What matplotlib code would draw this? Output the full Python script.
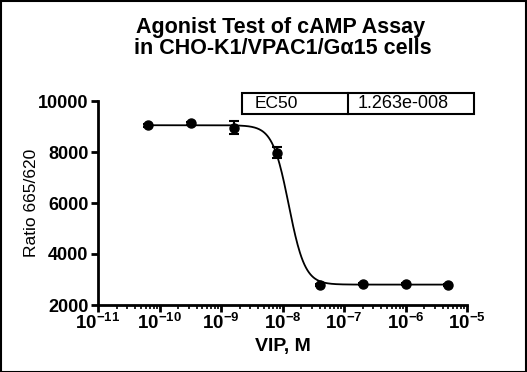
import numpy as np
import matplotlib
matplotlib.use("Agg")
import matplotlib.pyplot as plt
from matplotlib.patches import Rectangle
from matplotlib.ticker import LogLocator, NullFormatter, FixedLocator

plt.rcParams['font.family'] = ['Liberation Sans', 'DejaVu Sans']
plt.rcParams['mathtext.fontset'] = 'custom'
plt.rcParams['mathtext.rm'] = 'Liberation Sans:bold'
plt.rcParams['mathtext.bf'] = 'Liberation Sans:bold'

# Data
conc = [6.4e-11, 3.2e-10, 1.6e-9, 8e-9, 4e-8, 2e-7, 1e-6, 5e-6]
ratio = [9050, 9130, 8950, 7980, 2790, 2810, 2810, 2800]
err = [60, 60, 250, 200, 40, 40, 40, 40]
top, bottom, ec50, hill = 9050, 2800, 1.263e-8, 3.3
yticks = [2000, 4000, 6000, 8000, 10000]
xtick_exp = [-11, -10, -9, -8, -7, -6, -5]

W, H = 527, 372
fig = plt.figure(figsize=(W/100, H/100), dpi=100)
ax = fig.add_axes([98/W, 1-305/H, (467-98)/W, (305-101)/H])

xs = np.logspace(np.log10(6.4e-11), np.log10(5e-6), 400)
ys = bottom + (top-bottom)/(1+10**((np.log10(xs)-np.log10(ec50))*hill))
ax.plot(xs, ys, color='black', lw=1.3)
ax.errorbar(conc, ratio, yerr=err, fmt='o', color='black', ms=6.5,
            capsize=3.5, elinewidth=1.5, capthick=1.5)

ax.set_xscale('log')
ax.set_xlim(1e-11, 1e-5)
ax.set_ylim(2000, 10000)
ax.set_yticks(yticks)
ax.set_yticklabels([str(v) for v in yticks], fontsize=13, fontweight='bold')
ax.xaxis.set_major_locator(FixedLocator([10.0**e for e in xtick_exp]))
ax.set_xticklabels([r'$10^{%d}$' % e for e in xtick_exp], fontsize=13.5)
ax.xaxis.set_minor_locator(LogLocator(base=10, subs=np.arange(2, 10)))
ax.xaxis.set_minor_formatter(NullFormatter())
for s in ['top', 'right']:
    ax.spines[s].set_visible(False)
for s in ['left', 'bottom']:
    ax.spines[s].set_linewidth(2)
ax.tick_params(axis='both', which='major', width=2, length=5, direction='out', pad=2)
ax.tick_params(axis='x', which='major', pad=0.5)
ax.tick_params(axis='x', which='minor', width=1.2, length=3)
ax.set_ylabel('Ratio 665/620', fontsize=12.5, labelpad=-1)
ax.set_xlabel('VIP, M', fontsize=14, fontweight='bold', labelpad=3)

fig.text(281/W, 1-28/H, 'Agonist Test of cAMP Assay', ha='center', va='center',
         fontsize=15.5, fontweight='bold')
fig.text(283/W, 1-49/H, 'in CHO-K1/VPAC1/G\u03b115 cells', ha='center', va='center',
         fontsize=15.5, fontweight='bold')

# EC50 box
x0, x1, xm, yt, yb = 242, 474, 348, 93, 114
fig.add_artist(Rectangle((x0/W, 1-yb/H), (x1-x0)/W, (yb-yt)/H, transform=fig.transFigure,
                         fill=False, lw=1.5, ec='black'))
fig.add_artist(plt.Line2D([xm/W, xm/W], [1-yb/H, 1-yt/H], transform=fig.transFigure,
                          color='black', lw=1.5))
fig.text(255/W, 1-103.5/H, 'EC50', ha='left', va='center', fontsize=12.5)
fig.text(358/W, 1-103.5/H, '1.263e-008', ha='left', va='center', fontsize=13)

# figure border
fig.add_artist(Rectangle((0.5/W, 0.5/H), 1-1.5/W, 1-1.5/H, transform=fig.transFigure,
                         fill=False, lw=1.5, ec='black'))

fig.savefig('out.png', dpi=100)
